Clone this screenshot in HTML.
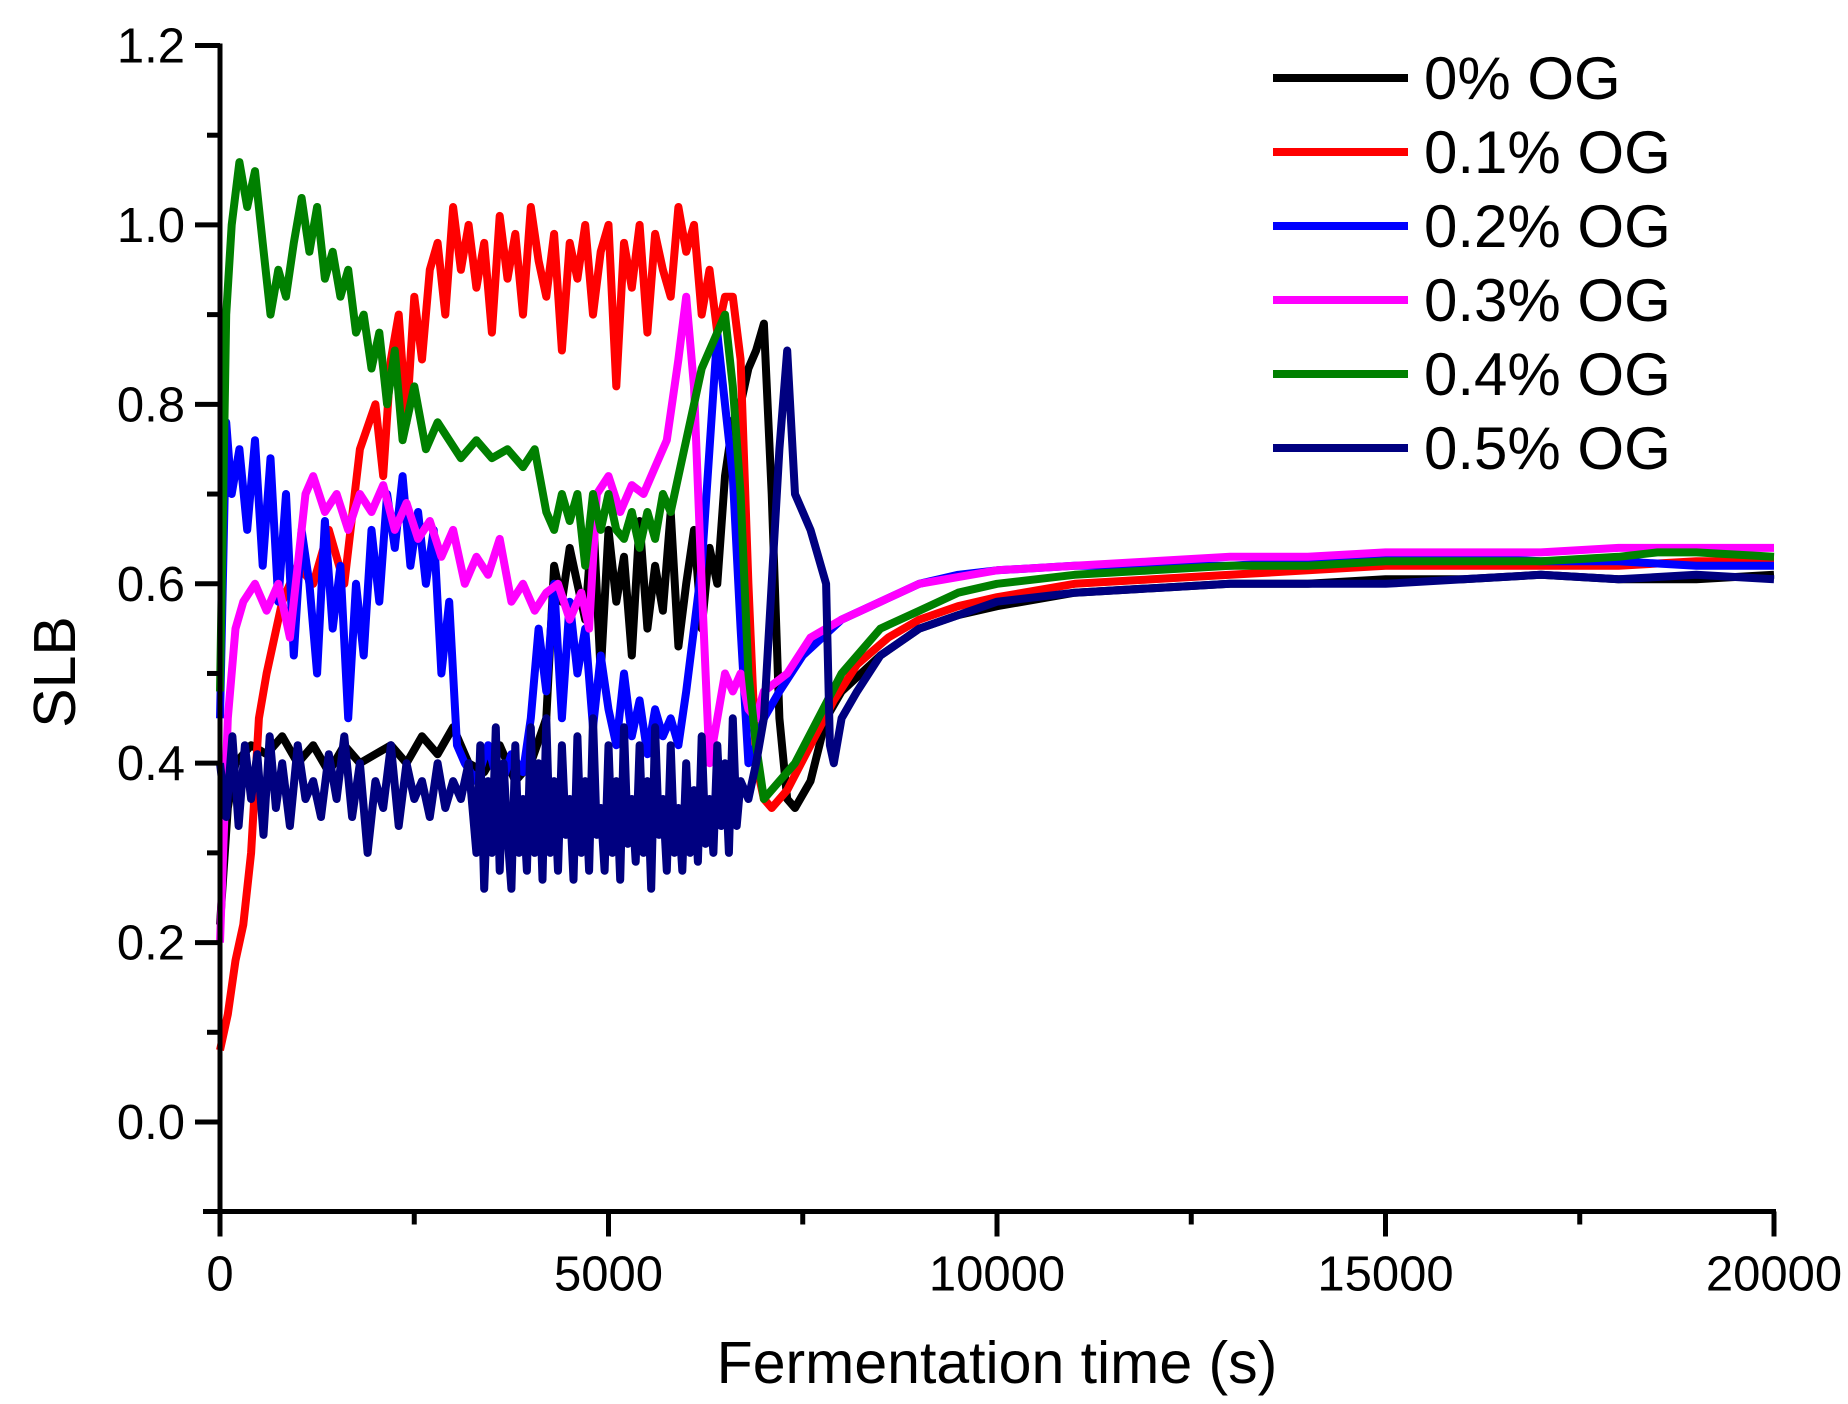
<!DOCTYPE html>
<html><head><meta charset="utf-8"><style>
html,body{margin:0;padding:0;background:#fff}
svg{display:block}
text{font-family:"Liberation Sans",Arial,sans-serif;fill:#000}
</style></head><body>
<svg id="chart" width="1848" height="1404" viewBox="0 0 1848 1404" xmlns="http://www.w3.org/2000/svg">
<g id="plot"></g>
<g id="axes"></g>
<g id="legend"></g>
</svg>
<script>
const xTicks=[0,5000,10000,15000,20000];
const yTicks=[0.0,0.2,0.4,0.6,0.8,1.0,1.2];
const yTickLabels=["0.0","0.2","0.4","0.6","0.8","1.0","1.2"];
const seriesNames=["0% OG","0.1% OG","0.2% OG","0.3% OG","0.4% OG","0.5% OG"];
const seriesColors=["#000000","#ff0000","#0000ff","#ff00ff","#008000","#000080"];

const t0=[0,100,200,400,600,800,1000,1200,1400,1600,1800,2000,2200,2400,2600,2800,3000,3200,3400,3600,3800,4000,4200,4300,4400,4500,4600,4700,4800,4900,5000,5100,5200,5300,5400,5500,5600,5700,5800,5900,6000,6100,6200,6300,6400,6500,6600,6700,6800,6900,7000,7100,7200,7300,7400,7600,7800,8000,8500,9000,9500,10000,11000,12000,13000,14000,15000,16000,17000,18000,19000,20000];
const v0=[0.22,0.35,0.4,0.42,0.41,0.43,0.4,0.42,0.39,0.42,0.4,0.41,0.42,0.4,0.43,0.41,0.44,0.4,0.39,0.42,0.38,0.4,0.45,0.62,0.58,0.64,0.6,0.56,0.68,0.5,0.66,0.58,0.63,0.52,0.67,0.55,0.62,0.57,0.68,0.53,0.6,0.66,0.55,0.64,0.6,0.72,0.78,0.8,0.84,0.86,0.89,0.7,0.45,0.36,0.35,0.38,0.45,0.48,0.52,0.55,0.565,0.575,0.59,0.595,0.6,0.6,0.605,0.605,0.61,0.605,0.605,0.61];

const t1=[0,100,200,300,400,500,600,800,1000,1200,1400,1600,1800,2000,2100,2200,2300,2400,2500,2600,2700,2800,2900,3000,3100,3200,3300,3400,3500,3600,3700,3800,3900,4000,4100,4200,4300,4400,4500,4600,4700,4800,4900,5000,5100,5200,5300,5400,5500,5600,5700,5800,5900,6000,6100,6200,6300,6400,6500,6600,6700,6800,6900,7000,7100,7300,7600,7900,8200,8600,9000,9500,10000,11000,12000,13000,14000,15000,16000,17000,18000,19000,20000];
const v1=[0.08,0.12,0.18,0.22,0.3,0.45,0.5,0.58,0.62,0.6,0.66,0.6,0.75,0.8,0.72,0.85,0.9,0.78,0.92,0.85,0.95,0.98,0.9,1.02,0.95,1.0,0.93,0.98,0.88,1.01,0.94,0.99,0.9,1.02,0.96,0.92,0.99,0.86,0.98,0.94,1.0,0.9,0.97,1.0,0.82,0.98,0.93,1.0,0.88,0.99,0.95,0.92,1.02,0.97,1.0,0.9,0.95,0.88,0.92,0.92,0.85,0.6,0.4,0.36,0.35,0.37,0.42,0.47,0.51,0.54,0.56,0.575,0.585,0.6,0.605,0.61,0.615,0.62,0.62,0.62,0.62,0.625,0.625];

const t2=[0,80,150,250,350,450,550,650,750,850,950,1050,1150,1250,1350,1450,1550,1650,1750,1850,1950,2050,2150,2250,2350,2450,2550,2650,2750,2850,2950,3050,3150,3300,3450,3600,3750,3900,4000,4100,4200,4300,4400,4500,4600,4700,4800,4900,5000,5100,5200,5300,5400,5500,5600,5700,5800,5900,6000,6100,6200,6300,6400,6500,6600,6700,6800,6900,7000,7200,7500,8000,8500,9000,9500,10000,11000,12000,13000,14000,15000,16000,17000,18000,19000,20000];
const v2=[0.45,0.78,0.7,0.75,0.66,0.76,0.62,0.74,0.58,0.7,0.52,0.66,0.6,0.5,0.67,0.55,0.62,0.45,0.6,0.52,0.66,0.58,0.7,0.64,0.72,0.62,0.68,0.6,0.66,0.5,0.58,0.42,0.4,0.38,0.42,0.37,0.41,0.39,0.45,0.55,0.48,0.6,0.45,0.58,0.5,0.55,0.44,0.52,0.46,0.42,0.5,0.43,0.47,0.41,0.46,0.43,0.45,0.42,0.48,0.55,0.62,0.75,0.88,0.8,0.72,0.55,0.4,0.42,0.45,0.48,0.52,0.56,0.58,0.6,0.61,0.615,0.62,0.62,0.62,0.625,0.63,0.63,0.625,0.625,0.62,0.62];

const t3=[0,100,200,300,450,600,750,900,1000,1100,1200,1350,1500,1650,1800,1950,2100,2250,2400,2550,2700,2850,3000,3150,3300,3450,3600,3750,3900,4050,4200,4350,4500,4650,4750,4850,5000,5150,5300,5450,5600,5750,5900,6000,6100,6200,6300,6400,6500,6600,6700,6800,6900,7000,7300,7600,8000,8500,9000,10000,11000,12000,13000,14000,15000,16000,17000,18000,19000,20000];
const v3=[0.2,0.45,0.55,0.58,0.6,0.57,0.6,0.54,0.62,0.7,0.72,0.68,0.7,0.66,0.7,0.68,0.71,0.66,0.69,0.65,0.67,0.63,0.66,0.6,0.63,0.61,0.65,0.58,0.6,0.57,0.59,0.6,0.56,0.59,0.55,0.7,0.72,0.68,0.71,0.7,0.73,0.76,0.85,0.92,0.82,0.6,0.4,0.45,0.5,0.48,0.5,0.46,0.45,0.48,0.5,0.54,0.56,0.58,0.6,0.615,0.62,0.625,0.63,0.63,0.635,0.635,0.635,0.64,0.64,0.64];

const t4=[0,80,150,250,350,450,550,650,750,850,950,1050,1150,1250,1350,1450,1550,1650,1750,1850,1950,2050,2150,2250,2350,2500,2650,2800,2950,3100,3300,3500,3700,3900,4050,4200,4300,4400,4500,4600,4700,4800,4900,5000,5100,5200,5300,5400,5500,5600,5700,5800,5900,6000,6100,6200,6300,6400,6500,6600,6700,6800,6900,7000,7200,7400,7700,8000,8500,9000,9500,10000,11000,12000,13000,14000,15000,16000,17000,18000,18500,19000,20000];
const v4=[0.48,0.9,1.0,1.07,1.02,1.06,0.98,0.9,0.95,0.92,0.98,1.03,0.97,1.02,0.94,0.97,0.92,0.95,0.88,0.9,0.84,0.88,0.8,0.86,0.76,0.82,0.75,0.78,0.76,0.74,0.76,0.74,0.75,0.73,0.75,0.68,0.66,0.7,0.67,0.7,0.62,0.7,0.66,0.7,0.66,0.65,0.68,0.64,0.68,0.65,0.7,0.68,0.72,0.76,0.8,0.84,0.86,0.88,0.9,0.82,0.7,0.5,0.42,0.36,0.38,0.4,0.45,0.5,0.55,0.57,0.59,0.6,0.61,0.615,0.62,0.62,0.625,0.625,0.625,0.63,0.635,0.635,0.63];

const t5=[0,80,160,240,320,400,480,560,640,720,800,900,1000,1100,1200,1300,1400,1500,1600,1700,1800,1900,2000,2100,2200,2300,2400,2500,2600,2700,2800,2900,3000,3100,3200,3300,3350,3400,3450,3500,3550,3600,3650,3700,3750,3800,3850,3900,3950,4000,4050,4100,4150,4200,4250,4300,4350,4400,4450,4500,4550,4600,4650,4700,4750,4800,4850,4900,4950,5000,5050,5100,5150,5200,5250,5300,5350,5400,5450,5500,5550,5600,5650,5700,5750,5800,5850,5900,5950,6000,6050,6100,6150,6200,6250,6300,6350,6400,6450,6500,6550,6600,6650,6700,6800,6900,7000,7100,7200,7300,7400,7500,7600,7700,7800,7850,7900,8000,8200,8500,9000,10000,11000,12000,13000,14000,15000,16000,17000,18000,19000,20000];
const v5=[0.4,0.34,0.43,0.33,0.42,0.36,0.41,0.32,0.43,0.35,0.4,0.33,0.42,0.36,0.38,0.34,0.41,0.36,0.43,0.34,0.4,0.3,0.38,0.35,0.42,0.33,0.4,0.36,0.38,0.34,0.4,0.35,0.38,0.36,0.4,0.3,0.42,0.26,0.38,0.3,0.44,0.28,0.4,0.32,0.26,0.42,0.3,0.36,0.28,0.44,0.3,0.4,0.27,0.45,0.3,0.38,0.28,0.42,0.32,0.36,0.27,0.43,0.3,0.38,0.28,0.45,0.32,0.35,0.28,0.42,0.3,0.38,0.27,0.44,0.31,0.36,0.29,0.42,0.3,0.38,0.26,0.44,0.32,0.36,0.28,0.42,0.3,0.35,0.28,0.4,0.3,0.37,0.29,0.43,0.31,0.36,0.3,0.42,0.33,0.4,0.3,0.45,0.33,0.38,0.36,0.4,0.45,0.6,0.75,0.86,0.7,0.68,0.66,0.63,0.6,0.42,0.4,0.45,0.48,0.52,0.55,0.58,0.59,0.595,0.6,0.6,0.6,0.605,0.61,0.605,0.61,0.605];

const seriesT=[t0,t1,t2,t3,t4,t5];
const seriesV=[v0,v1,v2,v3,v4,v5];
const drawOrder=[0,1,2,3,4,5];

const X0=220,X1=1774,Y0=1122,Y12=45.5;
function xs(t){return X0+(t-0)/(20000-0)*(X1-X0);}
function ys(v){return Y0-(v/1.2)*(Y0-Y12);}
const NS="http://www.w3.org/2000/svg";
function mk(tag,attrs,parent){const e=document.createElementNS(NS,tag);for(const k in attrs)e.setAttribute(k,attrs[k]);parent.appendChild(e);return e;}

const plot=document.getElementById('plot');
drawOrder.forEach(i=>{
  const T=seriesT[i],V=seriesV[i];
  const d=T.map((t,j)=>(j?'L':'M')+xs(t).toFixed(1)+' '+ys(V[j]).toFixed(1)).join(' ');
  const p=mk('path',{d:d,fill:'none',stroke:seriesColors[i],'stroke-width':8,'stroke-linejoin':'round'},plot);
  
  
});

const ax=document.getElementById('axes');
const yB=1211.5;
let a=mk('line',{x1:X0,y1:Y12-2,x2:X0,y2:yB,stroke:'#000','stroke-width':5},ax);


a=mk('line',{x1:X0-17,y1:yB,x2:X1+2,y2:yB,stroke:'#000','stroke-width':5},ax);


yTicks.forEach((v,i)=>{
  const y=ys(v);
  mk('line',{x1:X0-25,y1:y,x2:X0,y2:y,stroke:'#000','stroke-width':5},ax);
  if(i<yTicks.length-1) mk('line',{x1:X0-13,y1:ys(v+0.1),x2:X0,y2:ys(v+0.1),stroke:'#000','stroke-width':5},ax);
  const tx=mk('text',{x:X0-35,y:y+17,'font-size':49,'text-anchor':'end'},ax);
  tx.textContent=yTickLabels[i];
  
  
});
xTicks.forEach((t,i)=>{
  const x=xs(t);
  mk('line',{x1:x,y1:yB,x2:x,y2:yB+25,stroke:'#000','stroke-width':5},ax);
  if(i<xTicks.length-1) mk('line',{x1:xs(t+2500),y1:yB,x2:xs(t+2500),y2:yB+13,stroke:'#000','stroke-width':5},ax);
  const tx=mk('text',{x:x,y:yB+79,'font-size':49,'text-anchor':'middle'},ax);
  tx.textContent=String(t);
  
  
});
let xt=mk('text',{x:997,y:1383,'font-size':59,'text-anchor':'middle'},ax);
xt.textContent='Fermentation time (s)';


let yt=mk('text',{x:0,y:0,'font-size':59,'text-anchor':'middle',transform:'translate(75,672) rotate(-90)'},ax);
yt.textContent='SLB';



const lg=document.getElementById('legend');
const rowsY=[78,152,226,300,374,448];
seriesNames.forEach((n,i)=>{
  const g=mk('g',{},lg);
  
  
  mk('line',{x1:1273,y1:rowsY[i],x2:1408,y2:rowsY[i],stroke:seriesColors[i],'stroke-width':8},g);
  const tx=mk('text',{x:1424,y:rowsY[i]+21,'font-size':60},g);
  tx.textContent=n;
});
</script>
</body></html>
